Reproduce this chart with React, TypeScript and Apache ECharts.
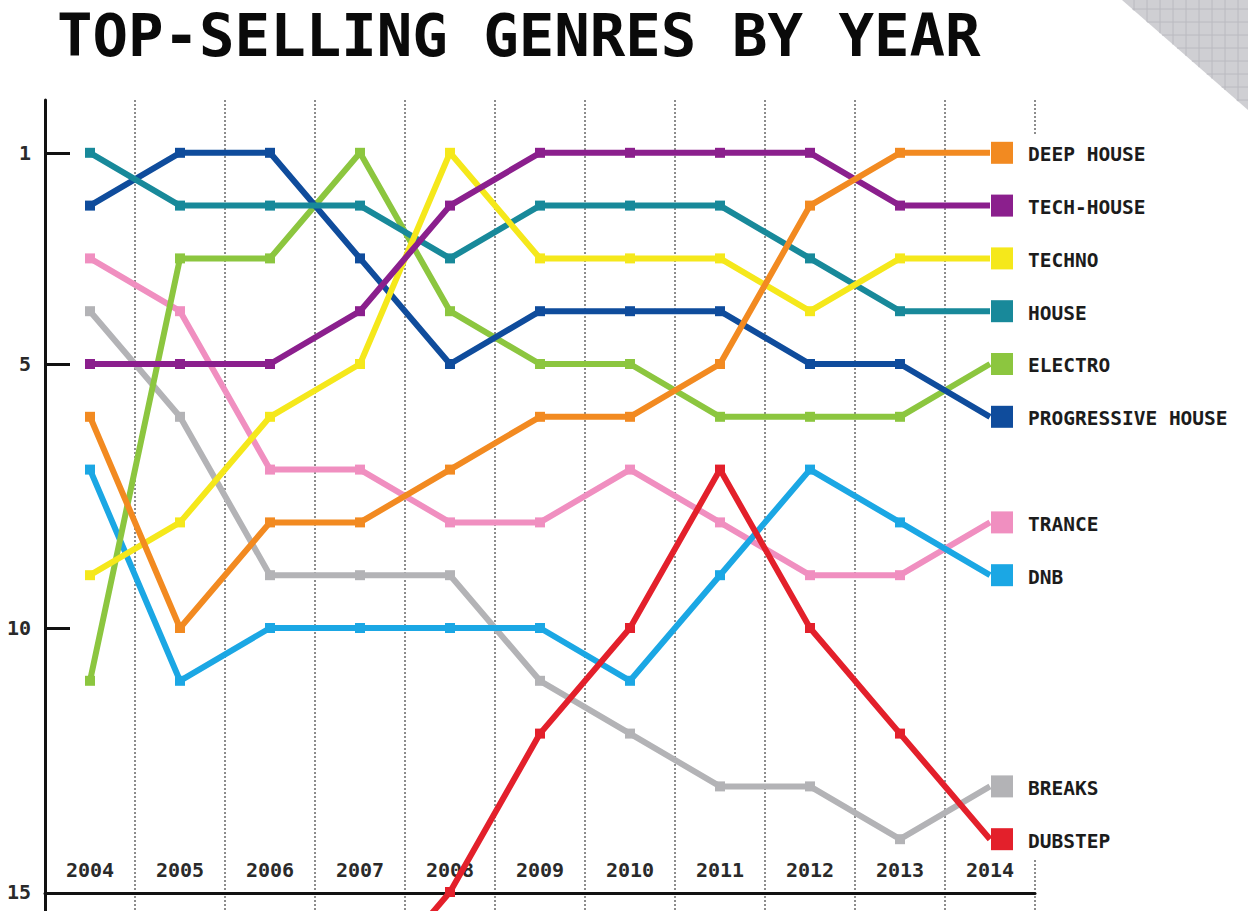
import React, { useEffect, useRef } from 'react';
import * as echarts from 'echarts';

const years = ['2004', '2005', '2006', '2007', '2008', '2009', '2010', '2011', '2012', '2013', '2014'];

const deepHouse = [6, 10, 8, 8, 7, 6, 6, 5, 2, 1, 1];
const techHouse = [5, 5, 5, 4, 2, 1, 1, 1, 1, 2, 2];
const techno = [9, 8, 6, 5, 1, 3, 3, 3, 4, 3, 3];
const house = [1, 2, 2, 2, 3, 2, 2, 2, 3, 4, 4];
const electro = [11, 3, 3, 1, 4, 5, 5, 6, 6, 6, 5];
const progressiveHouse = [2, 1, 1, 3, 5, 4, 4, 4, 5, 5, 6];
const trance = [3, 4, 7, 7, 8, 8, 7, 8, 9, 9, 8];
const dnb = [7, 11, 10, 10, 10, 10, 11, 9, 7, 8, 9];
const breaks = [4, 6, 9, 9, 9, 11, 12, 13, 13, 14, 13];
const dubstep = [null, null, null, 17, 15, 12, 10, 7, 10, 12, 14];

const rankLabels = [1, 5, 10, 15];
const rankTicks = [1, 5, 10];

const genres = [
  { name: 'BREAKS', values: breaks, color: '#b3b3b6' },
  { name: 'TRANCE', values: trance, color: '#f08fc0' },
  { name: 'DNB', values: dnb, color: '#1ba7e4' },
  { name: 'ELECTRO', values: electro, color: '#8cc63f' },
  { name: 'PROGRESSIVE HOUSE', values: progressiveHouse, color: '#0f4c9c' },
  { name: 'HOUSE', values: house, color: '#18899a' },
  { name: 'TECHNO', values: techno, color: '#f5e81b' },
  { name: 'TECH-HOUSE', values: techHouse, color: '#8b1f8d' },
  { name: 'DEEP HOUSE', values: deepHouse, color: '#f28a21' },
  { name: 'DUBSTEP', values: dubstep, color: '#e3202b' },
];

const MONO = "'DejaVu Sans Mono', monospace";

function cornerGraphics() {
  const x0 = 1122;
  const x1 = 1248;
  const y1 = 110;
  const slope = y1 / (x1 - x0);
  const els: any[] = [
    {
      type: 'polygon',
      shape: { points: [[x0, 0], [x1, 0], [x1, y1]] },
      style: { fill: '#cfcfd3' },
      z: 1,
    },
  ];
  for (let x = x0 + 12; x < x1; x += 13) {
    els.push({
      type: 'line',
      shape: { x1: x, y1: 0, x2: x, y2: (x - x0) * slope },
      style: { stroke: '#babac0', lineWidth: 1 },
      z: 1,
    });
  }
  for (let y = 9; y < y1; y += 13) {
    els.push({
      type: 'line',
      shape: { x1: x0 + y / slope, y1: y, x2: x1, y2: y },
      style: { stroke: '#babac0', lineWidth: 1 },
      z: 1,
    });
  }
  return els;
}

export default function App() {
  const ref = useRef<HTMLDivElement>(null);

  useEffect(() => {
    if (!ref.current) return;
    const chart = echarts.init(ref.current, null, { renderer: 'svg' });

    const series = genres.map((g) => ({
      type: 'line',
      name: g.name,
      data: g.values.map((v, i) =>
        i === g.values.length - 1
          ? { value: v, symbolSize: 22, symbolOffset: [12, 0] }
          : v
      ),
      symbol: 'rect',
      symbolSize: 10,
      showAllSymbol: true,
      clip: true,
      color: g.color,
      lineStyle: { color: g.color, width: 6, join: 'round' },
      itemStyle: { color: g.color },
      emphasis: { disabled: true },
      endLabel: {
        show: true,
        formatter: '{a}',
        distance: 38,
        offset: [0, 2],
        color: '#1c1c1c',
        fontFamily: MONO,
        fontWeight: 'bold',
        fontSize: 19.5,
      },
    }));

    const option: any = {
      animation: false,
      backgroundColor: '#ffffff',
      grid: { left: 45, top: 100, width: 990, height: 811, containLabel: false },
      xAxis: {
        type: 'category',
        data: years,
        boundaryGap: true,
        position: 'bottom',
        offset: -18,
        axisLine: { show: true, onZero: false, lineStyle: { color: '#111', width: 3 } },
        axisTick: { show: false },
        axisLabel: {
          inside: true,
          margin: 13,
          color: '#2a2a2a',
          fontFamily: MONO,
          fontWeight: 'bold',
          fontSize: 20,
        },
        splitLine: {
          show: true,
          lineStyle: { color: '#8c8c8c', width: 2, type: [2, 2] },
        },
      },
      yAxis: {
        type: 'value',
        inverse: true,
        min: 0,
        max: 15.36,
        axisLine: { show: true, onZero: false, lineStyle: { color: '#111', width: 3 } },
        axisTick: {
          show: true,
          inside: true,
          length: 25,
          customValues: rankTicks,
          lineStyle: { color: '#111', width: 3 },
        },
        axisLabel: {
          customValues: rankLabels,
          margin: 14,
          color: '#2a2a2a',
          fontFamily: MONO,
          fontWeight: 'bold',
          fontSize: 20,
        },
        splitLine: { show: false },
      },
      graphic: [
        {
          type: 'text',
          x: 57,
          y: 35,
          style: {
            text: 'TOP-SELLING GENRES BY YEAR',
            fill: '#0a0a0a',
            font: `bold 59px ${MONO}`,
            textVerticalAlign: 'middle',
            verticalAlign: 'middle',
          },
          z: 5,
        },
        {
          type: 'rect',
          shape: { x: 1031, y: 136, width: 8, height: 722 },
          style: { fill: '#ffffff' },
          z: 1,
        },
        ...cornerGraphics(),
      ],
      series,
    };

    chart.setOption(option);
    return () => chart.dispose();
  }, []);

  return (
    <div
      ref={ref}
      style={{ position: 'fixed', left: 0, top: 0, width: 1248, height: 911, background: '#fff' }}
    />
  );
}
